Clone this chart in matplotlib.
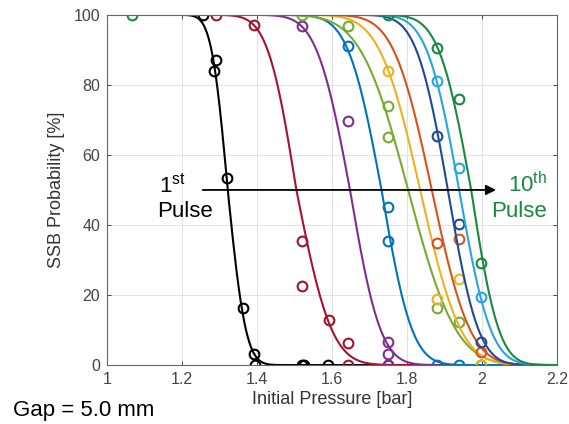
#!/usr/bin/env python3
"""
SSB probability vs initial pressure, pulses 1 to 10 (gap = 5.0 mm)
"""

import math
import numpy as np
import matplotlib.pyplot as plt

plt.rcParams['font.family'] = ['Liberation Sans', 'DejaVu Sans']
plt.rcParams['mathtext.fontset'] = 'custom'
plt.rcParams['mathtext.rm'] = 'Liberation Sans'

# measured points for each pulse
pulse_names = ['1', '2', '3', '4', '5', '6', '7', '8', '9', '10']
pulse_colors = ['#000000', '#A2142F', '#7E2F8E', '#0072BD', '#77AC30',
                '#EDB120', '#D95319', '#1F4A96', '#2BA3E3', '#178A3F']

p1_x = [1.255, 1.286, 1.29, 1.32, 1.362, 1.392, 1.395, 1.52, 1.525, 1.59]
p1_y = [100, 84, 87, 53.5, 16.4, 3.3, 0, 0, 0, 0]
p2_x = [1.29, 1.392, 1.521, 1.521, 1.591, 1.642, 1.642, 1.749]
p2_y = [100, 97, 35.4, 22.7, 13, 6.2, 0, 0]
p3_x = [1.52, 1.642, 1.75, 1.75, 1.75]
p3_y = [96.7, 69.7, 6.7, 3.3, 0]
p4_x = [1.642, 1.75, 1.75, 1.881, 1.939, 1.997]
p4_y = [91, 45.2, 35.4, 0, 0, 0]
p5_x = [1.52, 1.642, 1.75, 1.75, 1.881, 1.939, 1.997]
p5_y = [100, 96.9, 74, 65, 16.4, 12.4, 0]
p6_x = [1.75, 1.881, 1.939, 1.997]
p6_y = [84, 19, 24.5, 0]
p7_x = [1.879, 1.939, 1.997]
p7_y = [34.8, 36, 3.8]
p8_x = [1.879, 1.939, 1.997]
p8_y = [65.4, 40.2, 6.7]
p9_x = [1.879, 1.939, 1.997]
p9_y = [81.1, 56.2, 19.5]
p10_x = [1.067, 1.75, 1.879, 1.939, 1.997]
p10_y = [100, 100, 90.5, 75.9, 29.2]

# fitted curve parameters (50% pressure, spread above / below)
fit_center = [1.322, 1.505, 1.648, 1.732, 1.803, 1.835, 1.866, 1.909, 1.939, 1.971]
sigma_high = [0.034, 0.060, 0.070, 0.070, 0.100, 0.085, 0.080, 0.066, 0.068, 0.068]
sigma_low = [0.038, 0.074, 0.064, 0.064, 0.100, 0.085, 0.080, 0.064, 0.066, 0.058]


def fit_curve(p, center, s_hi, s_lo):
    """Survival probability curve [%]"""
    sig = np.where(p < center, s_hi, s_lo)
    z = (p - center) / (sig * math.sqrt(2))
    return 50 * np.array([math.erfc(v) for v in z])


def main():
    fig = plt.figure(figsize=(5.69, 4.24), dpi=100)
    ax = fig.add_axes([0.188, 0.139, 0.791, 0.826])

    xs = [p1_x, p2_x, p3_x, p4_x, p5_x, p6_x, p7_x, p8_x, p9_x, p10_x]
    ys = [p1_y, p2_y, p3_y, p4_y, p5_y, p6_y, p7_y, p8_y, p9_y, p10_y]
    p = np.linspace(1.0, 2.2, 600)

    for i in range(len(pulse_names)):
        c = pulse_colors[i]
        ax.plot(xs[i], ys[i], 'o', mfc='none', mec=c, mew=1.5, ms=7)
        ax.plot(p, fit_curve(p, fit_center[i], sigma_high[i], sigma_low[i]),
                '-', color=c, lw=1.5)

    # arrow from 1st to 10th pulse
    ax.annotate('', xy=(2.045, 50), xytext=(1.248, 50),
                arrowprops=dict(arrowstyle='-|>', color='black', lw=1.3,
                                mutation_scale=15))
    ax.text(1.139, 49.4, r'1$^{\mathrm{st}}$', fontsize=16, va='baseline')
    ax.text(1.133, 42.3, 'Pulse', fontsize=16, va='baseline')
    ax.text(2.173, 49.4, r'10$^{\mathrm{th}}$', fontsize=16, va='baseline',
            ha='right', color='#178A3F')
    ax.text(2.173, 42.3, 'Pulse', fontsize=16, va='baseline', ha='right',
            color='#178A3F')

    ax.set_xlim(1, 2.2)
    ax.set_ylim(0, 100)
    ax.set_xticks(np.arange(1.0, 2.21, 0.2))
    ax.set_xticklabels(['1', '1.2', '1.4', '1.6', '1.8', '2', '2.2'])
    ax.set_yticks(range(0, 101, 20))
    ax.grid(True, color='#e2e2e2', lw=0.7)
    ax.set_axisbelow(True)
    ax.tick_params(direction='in', length=3, width=0.7, top=True, right=True,
                   labelsize=11.5, colors='#444444', pad=5)
    for s in ax.spines.values():
        s.set_color('#666666')
        s.set_linewidth(0.8)

    ax.set_xlabel('Initial Pressure [bar]', fontsize=13, color='#333333', labelpad=3)
    ax.set_ylabel('SSB Probability [%]', fontsize=13, color='#333333', labelpad=6)
    fig.text(0.022, 0.033, 'Gap = 5.0 mm', fontsize=16, va='center')

    fig.savefig('out.png', dpi=100)
    plt.close(fig)


if __name__ == "__main__":
    main()
